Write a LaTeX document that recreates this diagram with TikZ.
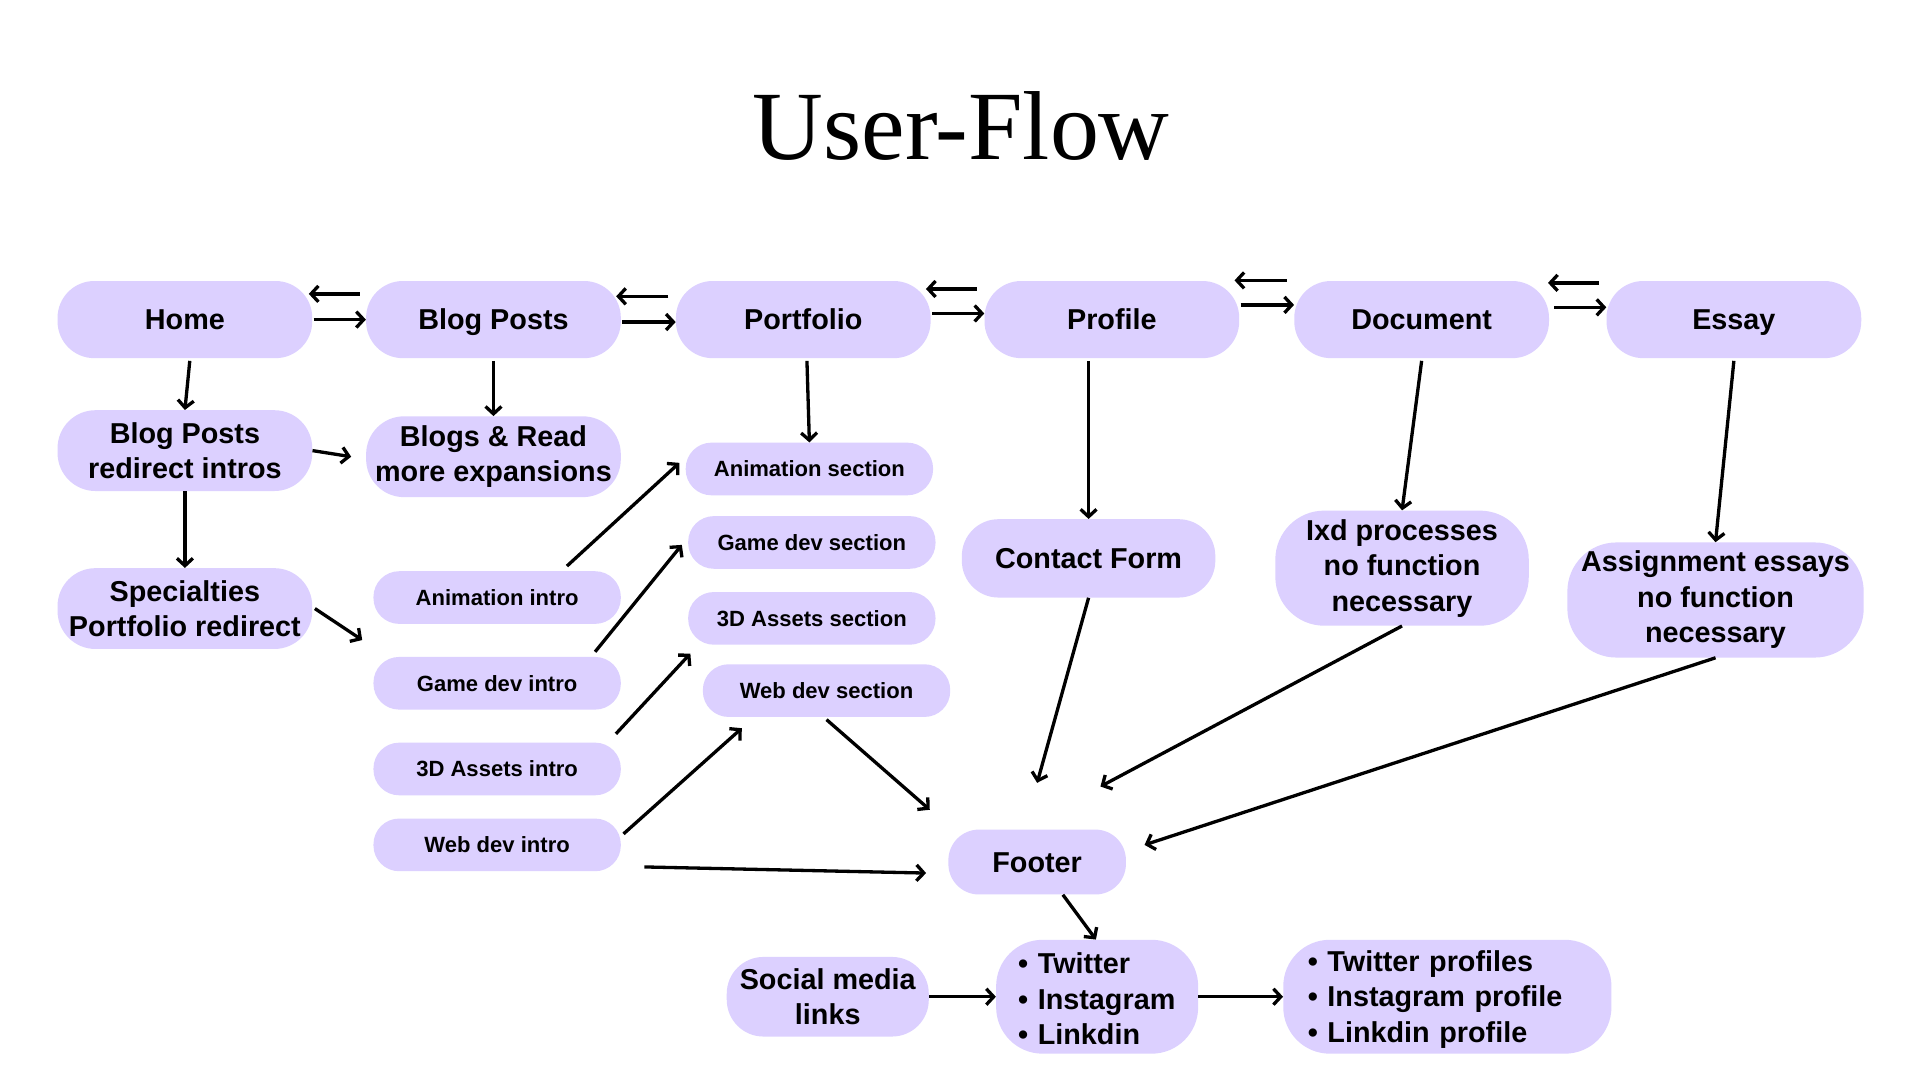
\documentclass[tikz,border=0pt]{standalone}
\usepackage{fontspec}
\setmainfont{Liberation Sans}
\newfontfamily\titlefont{Liberation Serif}
\usetikzlibrary{arrows.meta,calc}
\definecolor{lav}{RGB}{220,208,255}
\newcommand\lblbig{\fontsize{23.5}{29}\selectfont\bfseries}
\newcommand\lblsmall{\fontsize{18}{22}\selectfont\bfseries}
\begin{document}
\begin{tikzpicture}[x=1pt,y=-1pt,
  box/.style={fill=lav, rounded corners=#1, inner sep=0pt, align=center, font=\lblbig, text=black},
  box/.default=30,
  oneline/.style={text height=17pt, text depth=0pt},
  sbox/.style={box=21, minimum width=202, minimum height=43, font=\lblsmall, text height=13pt, text depth=0pt},
  arr/.style={line width=2.7pt, -{Straight Barb[length=6pt,width=13pt]}}]
\fill[white] (0,0) rectangle (1568,882);
\useasboundingbox (0,0) rectangle (1568,882);

% title
\node[font=\titlefont\fontsize{80}{90}\selectfont, anchor=base] (title) at (785,130) {User-Flow};

% top row
\node[box, oneline, minimum width=208, minimum height=63] (home)  at (151,261) {Home};
\node[box, oneline, minimum width=208, minimum height=63] (blog)  at (403,261) {Blog Posts};
\node[box, oneline, minimum width=208, minimum height=63] (port)  at (656,261) {Portfolio};
\node[box, oneline, minimum width=208, minimum height=63] (prof)  at (908,261) {Profile};
\node[box, oneline, minimum width=208, minimum height=63] (doc)   at (1161,261) {Document};
\node[box, oneline, minimum width=208, minimum height=63] (essay) at (1416,261) {Essay};

% left column
\node[box=31, minimum width=208, minimum height=66] (bpri)  at (151,368) {Blog Posts\\redirect intros};
\node[box=31, minimum width=208, minimum height=66] (blogs) at (403,373) {Blogs \& Read\\more expansions};
\node[box=31, minimum width=208, minimum height=66] (spec)  at (151,497) {Specialties\\Portfolio redirect};

% sections
\node[sbox] (anims) at (661,383) {Animation section};
\node[sbox] (gds)   at (663,443) {Game dev section};
\node[sbox] (tds)   at (663,505) {3D Assets section};
\node[sbox] (wds)   at (675,564) {Web dev section};

% intros
\node[sbox] (animi) at (406,488) {Animation intro};
\node[sbox] (gdi)   at (406,558) {Game dev intro};
\node[sbox] (tdi)   at (406,628) {3D Assets intro};
\node[sbox] (wdi)   at (406,690) {Web dev intro};

% right part
\node[box, oneline, minimum width=207, minimum height=64] (cf) at (889,456) {Contact Form};
\node[box=40, minimum width=207, minimum height=94] (ixd) at (1145,464) {Ixd processes\\no function\\necessary};
\node[box=40, minimum width=242, minimum height=94] (assign) at (1401,490) {Assignment essays\\no function\\necessary};

% bottom
\node[box=25, oneline, minimum width=145, minimum height=53] (footer) at (847,704) {Footer};
\node[box, minimum width=165, minimum height=65] (social) at (676,814) {Social media\\links};
\node[box=38, minimum width=165, minimum height=93, align=left, text width=129, inner xsep=18] (tw) at (896,814)
  {\rule{0pt}{21pt}\textbullet\ Twitter\\\textbullet\ Instagram\\\textbullet\ Linkdin};
\node[box=38, minimum width=268, minimum height=93, align=left, text width=228, inner xsep=20] (twp) at (1182,814)
  {\rule{0pt}{21pt}\textbullet\ Twitter profiles\\\textbullet\ Instagram profile\\\textbullet\ Linkdin profile};

% top row pairs
\draw[arr] ($(home.east)+(1,0)$) -- (blog.west);
\draw[arr] ($(blog.west)+(-5,-21)$) -- ($(home.east)+(-3,-21)$);
\draw[arr] ($(blog.east)+(1,2)$) -- ($(port.west)+(0,2)$);
\draw[arr] ($(port.west)+(-6,-19)$) -- ($(blog.east)+(-4,-19)$);
\draw[arr] ($(port.east)+(1,-5)$) -- ($(prof.west)+(0,-5)$);
\draw[arr] ($(prof.west)+(-6,-25)$) -- ($(port.east)+(-4,-25)$);
\draw[arr] ($(prof.east)+(1,-12)$) -- ($(doc.west)+(0,-12)$);
\draw[arr] ($(doc.west)+(-6,-32)$) -- ($(prof.east)+(-4,-32)$);
\draw[arr] ($(doc.east)+(4,-10)$) -- ($(essay.west)+(0,-10)$);
\draw[arr] ($(essay.west)+(-6,-30)$) -- ($(doc.east)+(-1,-30)$);

% downward
\draw[arr] ($(home.south)+(4,2)$) -- (bpri.north);
\draw[arr] ($(blog.south)+(0,2)$) -- (blogs.north);
\draw[arr] (bpri.south) -- (spec.north);
\draw[arr] (bpri.east) -- ($(blogs.west)+(-12,0)$);
\draw[arr] ($(spec.east)+(2,0)$) -- ($(animi.south west)+(-9,13)$);
\draw[arr] ($(port.south)+(3,2)$) -- (anims.north);
\draw[arr] ($(prof.south)+(-19,2)$) -- (cf.north);
\draw[arr] ($(doc.south)+(0,2)$) -- (ixd.north);
\draw[arr] ($(essay.south)+(0,2)$) -- (assign.north);

% intros to sections
\draw[arr] ($(animi.north)+(57,-4)$) -- ($(anims.west)+(-5,-5)$);
\draw[arr] ($(gdi.north)+(80,-4)$) -- ($(gds.west)+(-5,2)$);
\draw[arr] ($(tdi.north)+(97,-7)$) -- ($(tds.south west)+(2,7)$);
\draw[arr] ($(wdi.east)+(2,-9)$) -- ($(wds.south west)+(32,9)$);

% to footer
\draw[arr] ($(wdi.east)+(19,18)$) -- ($(footer.west)+(-18,9)$);
\draw[arr] ($(wds.south)+(0,2)$) -- ($(footer.north west)+(-15,-16)$);
\draw[arr] (cf.south) -- ($(footer.north)+(0,-38)$);
\draw[arr] (ixd.south) -- ($(footer.north east)+(-21,-35)$);
\draw[arr] (assign.south) -- ($(footer.east)+(15,-14)$);

% footer to links
\draw[arr] ($(footer.south)+(21,0)$) -- ($(tw.north)+(-1,0)$);
\draw[arr] (social.east) -- (tw.west);
\draw[arr] (tw.east) -- (twp.west);
\end{tikzpicture}
\end{document}
